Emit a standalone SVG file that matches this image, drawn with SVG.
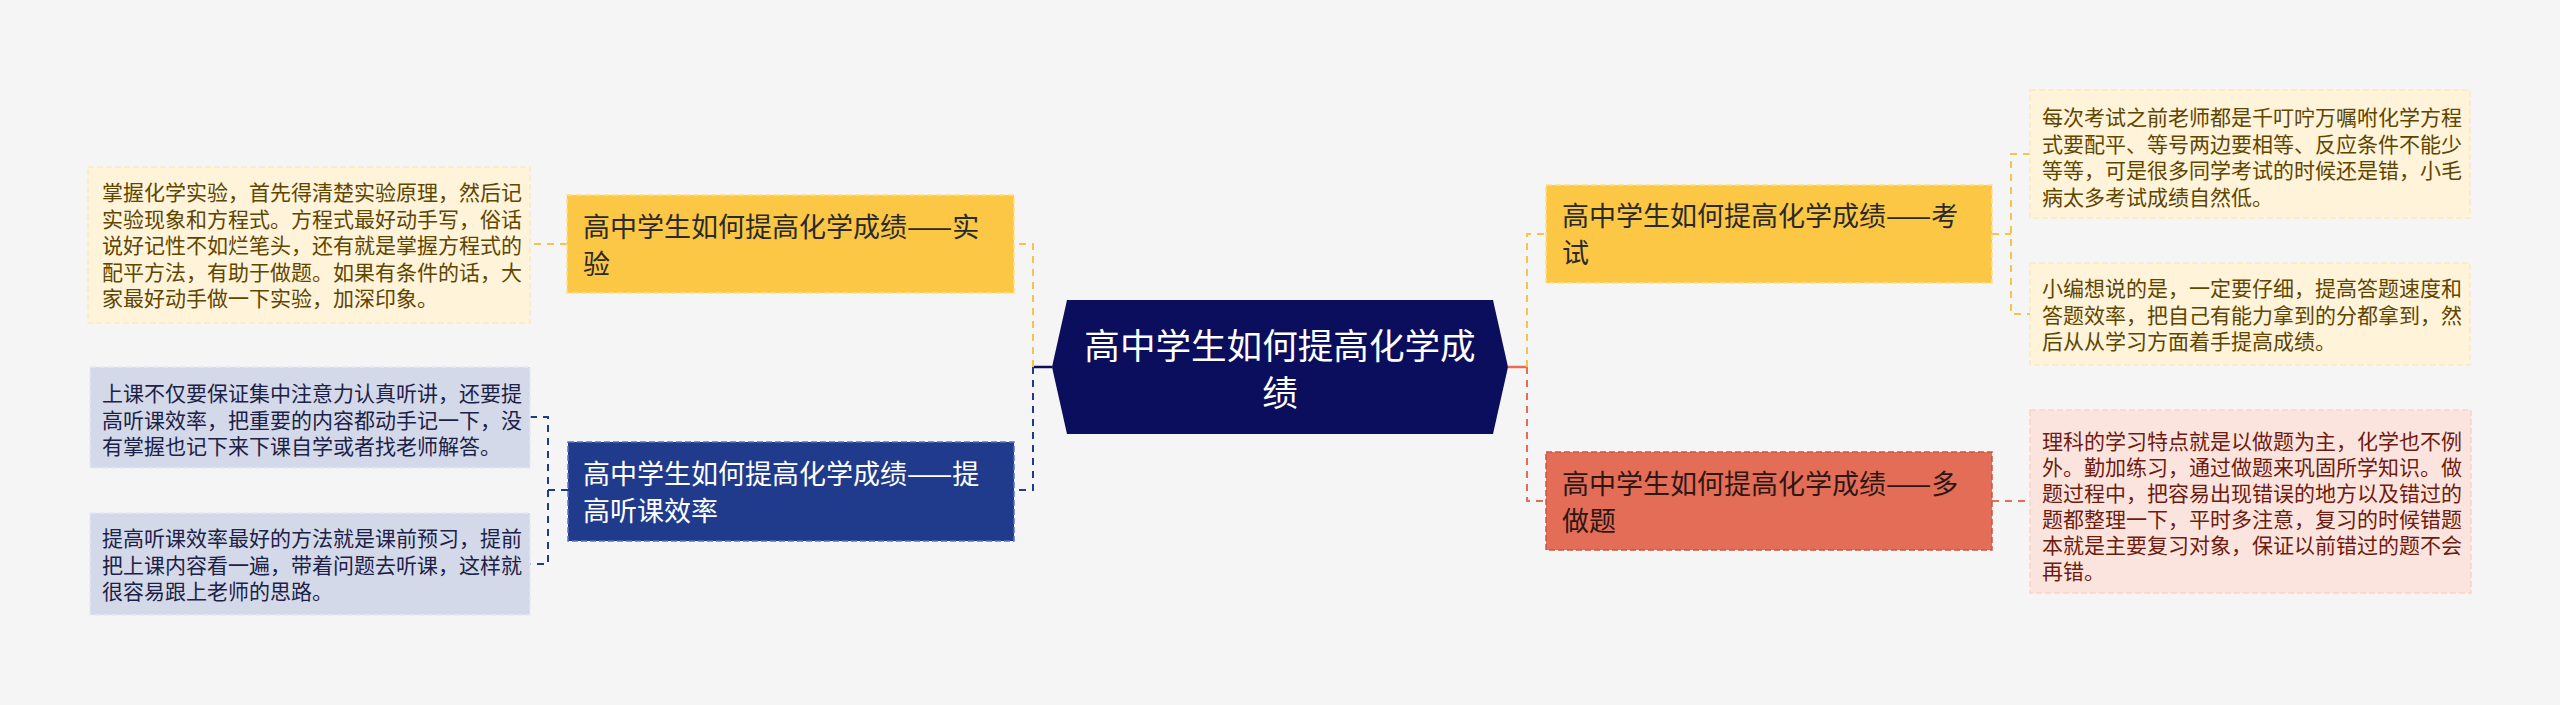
<svg xmlns="http://www.w3.org/2000/svg" width="2560" height="705" viewBox="0 0 2560 705">
<style>
text{font-family:"Noto Sans CJK SC","Noto Sans",sans-serif;}
.br{font-size:27px;}
.nt{font-size:21px;}
.ctr{font-size:35.6px;fill:#ffffff;}
.dash{fill:none;stroke-width:2;stroke-dasharray:7 6;}
.solid{fill:none;stroke-width:2.5;}
.yb{fill:#fcc745;stroke:#fde08c;stroke-width:1.5;stroke-dasharray:6 3;}
.nb{fill:#213b8c;stroke:#5a72bd;stroke-width:1.5;stroke-dasharray:6 3;}
.rb{fill:#e46d58;stroke:#c85743;stroke-width:1.5;stroke-dasharray:6 3;}
.yn{fill:#fff3da;stroke:#fbe9c2;stroke-width:1.5;stroke-dasharray:6 3;}
.ln{fill:#d4d9e9;stroke:#e6e9f3;stroke-width:1.5;stroke-dasharray:6 3;}
.pn{fill:#fce4de;stroke:#f6d3ca;stroke-width:1.5;stroke-dasharray:6 3;}
.ytx{fill:#5e4600;}
.ltx{fill:#1c2147;}
.ptx{fill:#6e1b10;}
</style>
<rect x="0" y="0" width="2560" height="705" fill="#f5f5f5"/>
<g id="connectors">
<path class="solid" stroke="#0b0e5c" d="M1052,367 H1033"/>
<path class="dash" stroke="#f5c44c" d="M1033,367 V244 H1014"/>
<path class="dash" stroke="#f5c44c" d="M567,244 H530"/>
<path class="dash" stroke="#213b8c" d="M1033,367 V490 H1014"/>
<path class="dash" stroke="#213b8c" d="M568,490 H548"/>
<path class="dash" stroke="#213b8c" d="M530,417 H548 V564 H530"/>
<path class="solid" stroke="#e46d58" d="M1508,367 H1527"/>
<path class="dash" stroke="#f5c44c" d="M1527,367 V234 H1546"/>
<path class="dash" stroke="#e46d58" d="M1527,367 V501 H1546"/>
<path class="dash" stroke="#f5c44c" d="M1992,234 H2011"/>
<path class="dash" stroke="#f5c44c" d="M2030,154 H2011 V314 H2030"/>
<path class="dash" stroke="#e46d58" d="M1992,501 H2030"/>
</g>
<g id="center">
<polygon points="1052,367 1067,300 1493,300 1508,367 1493,434 1067,434" fill="#0b0e5c"/>
<text class="ctr" x="1280" y="359" text-anchor="middle">高中学生如何提高化学成</text>
<text class="ctr" x="1280" y="406" text-anchor="middle">绩</text>
</g>
<g id="branch-shiyan">
<rect class="yb" x="567" y="195" width="447" height="98"/>
<text class="br" fill="#2a2a2a" x="583" y="237">高中学生如何提高化学成绩——实</text>
<text class="br" fill="#2a2a2a" x="583" y="274">验</text>
</g>
<g id="note-shiyan">
<rect class="yn" x="88" y="167" width="442" height="156"/>
<text class="nt ytx" x="102" y="200">掌握化学实验，首先得清楚实验原理，然后记</text>
<text class="nt ytx" x="102" y="226.5">实验现象和方程式。方程式最好动手写，俗话</text>
<text class="nt ytx" x="102" y="253">说好记性不如烂笔头，还有就是掌握方程式的</text>
<text class="nt ytx" x="102" y="279.5">配平方法，有助于做题。如果有条件的话，大</text>
<text class="nt ytx" x="102" y="306">家最好动手做一下实验，加深印象。</text>
</g>
<g id="branch-tinke">
<rect class="nb" x="568" y="442" width="446" height="99"/>
<text class="br" fill="#ffffff" x="583" y="484">高中学生如何提高化学成绩——提</text>
<text class="br" fill="#ffffff" x="583" y="521">高听课效率</text>
</g>
<g id="note-tinke-1">
<rect class="ln" x="90" y="367" width="440" height="101"/>
<text class="nt ltx" x="102" y="401">上课不仅要保证集中注意力认真听讲，还要提</text>
<text class="nt ltx" x="102" y="427.5">高听课效率，把重要的内容都动手记一下，没</text>
<text class="nt ltx" x="102" y="454">有掌握也记下来下课自学或者找老师解答。</text>
</g>
<g id="note-tinke-2">
<rect class="ln" x="90" y="513" width="440" height="102"/>
<text class="nt ltx" x="102" y="546">提高听课效率最好的方法就是课前预习，提前</text>
<text class="nt ltx" x="102" y="572.5">把上课内容看一遍，带着问题去听课，这样就</text>
<text class="nt ltx" x="102" y="599">很容易跟上老师的思路。</text>
</g>
<g id="branch-kaoshi">
<rect class="yb" x="1546" y="185" width="446" height="98"/>
<text class="br" fill="#2a2a2a" x="1562" y="226">高中学生如何提高化学成绩——考</text>
<text class="br" fill="#2a2a2a" x="1562" y="263">试</text>
</g>
<g id="note-kaoshi-1">
<rect class="yn" x="2030" y="90" width="440" height="128"/>
<text class="nt ytx" x="2042" y="125">每次考试之前老师都是千叮咛万嘱咐化学方程</text>
<text class="nt ytx" x="2042" y="151.5">式要配平、等号两边要相等、反应条件不能少</text>
<text class="nt ytx" x="2042" y="178">等等，可是很多同学考试的时候还是错，小毛</text>
<text class="nt ytx" x="2042" y="204.5">病太多考试成绩自然低。</text>
</g>
<g id="note-kaoshi-2">
<rect class="yn" x="2030" y="263" width="440" height="102"/>
<text class="nt ytx" x="2042" y="296">小编想说的是，一定要仔细，提高答题速度和</text>
<text class="nt ytx" x="2042" y="322.5">答题效率，把自己有能力拿到的分都拿到，然</text>
<text class="nt ytx" x="2042" y="349">后从从学习方面着手提高成绩。</text>
</g>
<g id="branch-duozuoti">
<rect class="rb" x="1546" y="452" width="446" height="98"/>
<text class="br" fill="#2e1712" x="1562" y="494">高中学生如何提高化学成绩——多</text>
<text class="br" fill="#2e1712" x="1562" y="531">做题</text>
</g>
<g id="note-duozuoti">
<rect class="pn" x="2030" y="410" width="441" height="183"/>
<text class="nt ptx" x="2042" y="449">理科的学习特点就是以做题为主，化学也不例</text>
<text class="nt ptx" x="2042" y="475">外。勤加练习，通过做题来巩固所学知识。做</text>
<text class="nt ptx" x="2042" y="501">题过程中，把容易出现错误的地方以及错过的</text>
<text class="nt ptx" x="2042" y="527">题都整理一下，平时多注意，复习的时候错题</text>
<text class="nt ptx" x="2042" y="553">本就是主要复习对象，保证以前错过的题不会</text>
<text class="nt ptx" x="2042" y="579">再错。</text>
</g>
</svg>
